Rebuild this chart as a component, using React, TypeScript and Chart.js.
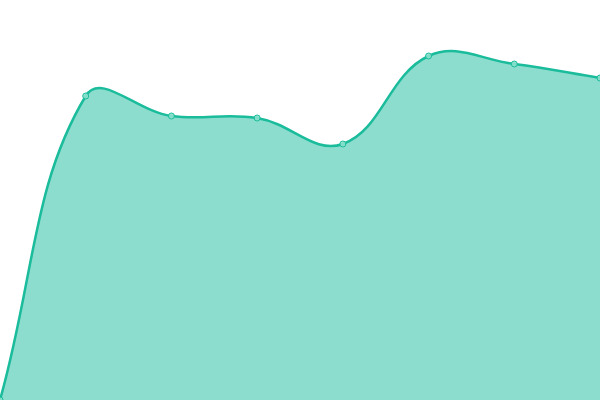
import React, { useRef, useEffect } from 'react';
import Chart from 'chart.js/auto';

const labels = ['1', '2', '3', '4', '5', '6', '7', '8'];
const values = [0, 76, 71, 70.5, 64, 86, 84, 80.5];
const yMin = 0;
const yMax = 100;

const App: React.FC = () => {
  const canvasRef = useRef<HTMLCanvasElement | null>(null);

  useEffect(() => {
    const ctx = canvasRef.current?.getContext('2d');
    if (!ctx) return;

    const chart = new Chart(ctx, {
      type: 'line',
      data: {
        labels,
        datasets: [{
          data: values,
          borderColor: '#1abc9c',
          borderWidth: 2.5,
          backgroundColor: 'rgba(26, 188, 156, 0.5)',
          fill: true,
          tension: 0.4,
          pointRadius: 3,
          pointBorderWidth: 1,
          pointBackgroundColor: 'rgba(140, 225, 205, 0.9)',
          pointBorderColor: '#1abc9c',
        }],
      },
      options: {
        animation: false,
        responsive: true,
        maintainAspectRatio: false,
        layout: { padding: 0, autoPadding: false },
        plugins: {
          legend: { display: false },
          tooltip: { enabled: false },
        },
        scales: {
          x: { display: false },
          y: { display: false, min: yMin, max: yMax },
        },
      },
    });

    return () => chart.destroy();
  }, []);

  return (
    <div style={{ position: 'fixed', top: 0, left: 0, width: '100vw', height: '100vh' }}>
      <canvas ref={canvasRef} />
    </div>
  );
};

export default App;
